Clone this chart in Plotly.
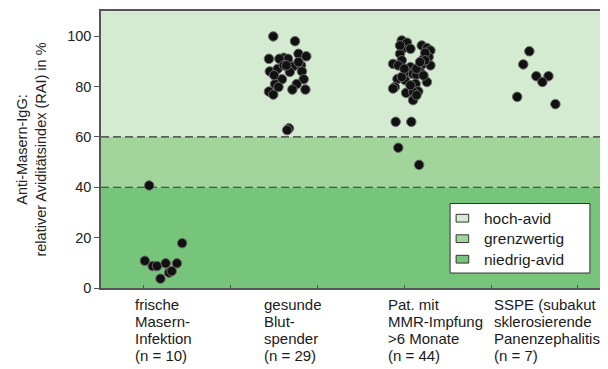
import plotly.graph_objects as go

# ---------------- data ----------------
groups = [["frische", "Masern-", "Infektion", "(n = 10)"],
          ["gesunde", "Blut-", "spender", "(n = 29)"],
          ["Pat. mit", "MMR-Impfung", ">6 Monate", "(n = 44)"],
          ["SSPE (subakut", "sklerosierende", "Panenzephalitis", "(n = 7)"]]
label_x = [0.87, 2.36, 3.79, 5.01]

g1_x = [1.06, 1.44, 1.01, 1.10, 1.15, 1.25, 1.38, 1.19, 1.29, 1.32]
g1_y = [40.7, 17.8, 10.8, 8.7, 8.7, 9.8, 9.8, 3.7, 6.1, 6.7]

g2_x = [2.49, 2.74, 2.44, 2.78, 2.87, 2.61, 2.66, 2.56, 2.45, 2.54, 2.61, 2.72, 2.81, 2.82, 2.59,
        2.84, 2.51, 2.76, 2.71, 2.86, 2.44, 2.49, 2.55, 2.67, 2.65, 2.50, 2.68, 2.64, 2.78]
g2_y = [99.9, 98.0, 91.0, 93.0, 92.0, 91.4, 91.0, 91.0, 86.0, 87.0, 88.4, 88.0, 88.4, 86.0, 82.9,
        82.9, 81.0, 81.0, 78.8, 78.8, 78.0, 76.8, 79.8, 63.4, 62.7, 84.5, 85.8, 88.4, 89.7]

g3_x = [3.97, 4.03, 4.20, 4.26, 4.30, 3.98, 4.07, 3.95, 4.28, 4.22, 3.97, 3.87, 3.93, 4.30, 4.20,
        4.07, 4.03, 4.18, 4.10, 4.14, 3.92, 4.01, 4.26, 4.13, 3.89, 3.87, 4.16, 4.02, 4.10, 4.10,
        3.90, 4.08, 3.93, 4.17, 4.24, 3.95, 4.14, 4.22, 4.07, 3.97, 4.24, 4.18, 4.00, 4.14]
g3_y = [98.3, 97.4, 96.3, 95.3, 94.3, 95.0, 95.0, 93.0, 91.7, 91.0, 90.4, 89.0, 88.4, 88.4, 88.7,
        87.7, 85.8, 85.8, 85.0, 84.7, 83.0, 82.5, 81.8, 81.1, 79.8, 79.2, 78.1, 77.5, 77.9, 74.6,
        66.0, 66.0, 55.7, 48.9, 93.4, 96.3, 87.1, 84.4, 80.5, 83.8, 90.4, 89.7, 87.1, 76.6]

g4_x = [5.44, 5.37, 5.52, 5.66, 5.59, 5.30, 5.74]
g4_y = [94.0, 88.8, 84.1, 84.1, 81.8, 75.9, 73.0]

band_names = ["hoch-avid", "grenzwertig", "niedrig-avid"]
band_lo = [60, 40, 0]
band_hi = [110, 60, 40]
band_colors = ["#d4ebd2", "#a2d59b", "#77c57a"]
threshold_lines = [40, 60]

y_ticks = [0, 20, 40, 60, 80, 100]
x_ticks = [1, 2, 3, 4, 5, 6]
x_range = [0.505, 6.30]
y_range = [0, 110]

FONT = "Liberation Sans, Arial, sans-serif"
TXT = "#1a1a1a"

fig = go.Figure()

# background bands
for lo, hi, col in zip(band_lo, band_hi, band_colors):
    fig.add_shape(type="rect", xref="paper", yref="y", x0=0, x1=1, y0=lo, y1=hi,
                  fillcolor=col, line_width=0, layer="below")

for v in threshold_lines:
    fig.add_shape(type="line", xref="paper", yref="y", x0=0, x1=1, y0=v, y1=v,
                  line=dict(color="#333333", width=1.2, dash="8px,4px"), layer="below")

for xs, ys in [(g1_x, g1_y), (g2_x, g2_y), (g3_x, g3_y), (g4_x, g4_y)]:
    fig.add_trace(go.Scatter(x=xs, y=ys, mode="markers", showlegend=False,
                             marker=dict(size=9.5, color="#111111",
                                         line=dict(color="#6a6a6a", width=1)),
                             hoverinfo="skip"))

# category labels (one annotation per line for tight line spacing)
line_y = [-0.061, -0.122, -0.183, -0.242]
for lx, lines in zip(label_x, groups):
    for ly, txt in zip(line_y, lines):
        fig.add_annotation(x=lx, y=ly, xref="x", yref="paper", xanchor="left", yanchor="middle",
                           text=txt, showarrow=False, align="left",
                           font=dict(family=FONT, size=15, color=TXT))

# custom legend
leg_x0, leg_x1, leg_y0, leg_y1 = 0.694, 0.972, 0.054, 0.305
fig.add_shape(type="rect", xref="paper", yref="paper", x0=leg_x0, x1=leg_x1, y0=leg_y0, y1=leg_y1,
              fillcolor="white", line=dict(color="#333333", width=1))
row_y = [0.252, 0.178, 0.104]
for name, col, ry in zip(band_names, band_colors, row_y):
    fig.add_shape(type="rect", xref="paper", yref="paper", x0=0.706, x1=0.731,
                  y0=ry - 0.014, y1=ry + 0.014, fillcolor=col, line=dict(color="#333333", width=1))
    fig.add_annotation(x=0.757, y=ry, xref="paper", yref="paper", xanchor="left", yanchor="middle",
                       text=name, showarrow=False, font=dict(family=FONT, size=15.5, color=TXT))

fig.update_layout(
    width=600, height=361,
    margin=dict(l=93, r=4, t=1, b=81),
    paper_bgcolor="white", plot_bgcolor="white",
    font=dict(family=FONT, size=14, color="#222222"),
    xaxis=dict(range=x_range, tickvals=x_ticks, ticks="inside", ticklen=3, tickcolor="#555555",
               showticklabels=False, showgrid=False, zeroline=False,
               showline=True, linecolor="#555555", linewidth=1.5, mirror=True),
    yaxis=dict(range=y_range, tickvals=y_ticks, ticks="outside", ticklen=5, tickcolor="#555555",
               showgrid=False, zeroline=False, showline=True, linecolor="#555555", linewidth=1.5,
               mirror=True, tickfont=dict(size=14.5, color="#222222"),
               title=dict(text="Anti-Masern-IgG:<br>relativer Aviditätsindex (RAI) in %",
                          font=dict(size=14.5, color="#222222"), standoff=17)),
)

fig.write_html("out.html")
